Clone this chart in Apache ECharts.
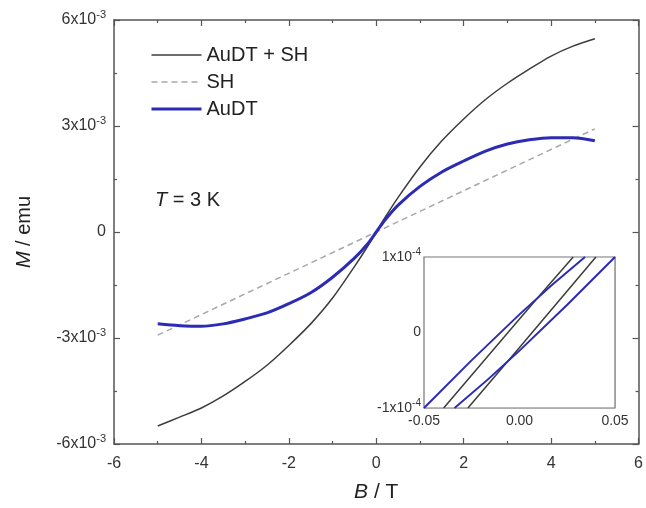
<!DOCTYPE html>
<html>
<head>
<meta charset="utf-8">
<script src="https://cdn.jsdelivr.net/npm/echarts@6/dist/echarts.min.js"></script>
<style>
  html, body { margin: 0; padding: 0; background: #fff; }
  #main { width: 646px; height: 508px; }
</style>
</head>
<body>
<div id="main"></div>
<script>
// main panel: B in T, M in units of 1e-3 emu
var fieldB = [-5, -4.5, -4, -3.5, -3, -2.5, -2, -1.5, -1, -0.5, -0.2, 0, 0.2, 0.5, 1, 1.5, 2, 2.5, 3, 3.5, 4, 4.5, 5];
var mTotal = [-5.49, -5.24, -4.98, -4.64, -4.23, -3.77, -3.21, -2.60, -1.87, -0.98, -0.41, 0, 0.41, 0.98, 1.84, 2.58, 3.2, 3.75, 4.21, 4.61, 4.98, 5.26, 5.47];
var mAuDT = [-2.6, -2.65, -2.67, -2.6, -2.46, -2.29, -2.03, -1.72, -1.28, -0.74, -0.34, 0, 0.34, 0.76, 1.29, 1.7, 2.01, 2.29, 2.49, 2.61, 2.67, 2.67, 2.58];
var fieldSH = [-5, 5];
var mSH = [-2.92, 2.92];

// inset: B in T, M in units of 1e-4 emu, two branches of each loop
var insetTotalUp = [[-0.0397, -1], [0, 0.18], [0.0281, 1]];
var insetTotalDown = [[-0.027, -1], [0, -0.2], [0.040, 1]];
var insetAuDTUp = [[-0.05, -1], [0, 0.24], [0.0343, 1]];
var insetAuDTDown = [[-0.034, -1], [0, -0.24], [0.05, 1]];

var legendNames = ['AuDT + SH', 'SH', 'AuDT'];

function pairs(xs, ys) {
  var out = [];
  for (var i = 0; i < xs.length; i++) out.push([xs[i], ys[i]]);
  return out;
}

var FONT = 'Liberation Sans, Arial, sans-serif';
var BLACK = '#3c3c3c';
var BLUE = '#2b2bb5';
var GREY = '#a8a8a8';
var FRAME = '#555555';
var legendWidths = { 'AuDT + SH': 1.5, 'SH': 1.5, 'AuDT': 3 };

var supRich = {
  n: { fontSize: 16, color: '#333', fontFamily: FONT },
  s: { fontSize: 11, color: '#333', fontFamily: FONT, padding: [0, 0, 10, 0] }
};

var chart = echarts.init(document.getElementById('main'));
chart.setOption({
  animation: false,
  textStyle: { fontFamily: FONT },
  grid: [
    { left: 114, top: 20, right: 4, bottom: 63, show: false },
    { left: 424, top: 257, width: 191, height: 151, show: true, backgroundColor: '#fff', borderColor: '#777', borderWidth: 1.2, z: 5 }
  ],
  legend: {
    data: legendNames.map(function (n) {
      return { name: n, lineStyle: { width: legendWidths[n] } };
    }),
    orient: 'vertical',
    left: 145,
    top: 40,
    itemWidth: 50,
    itemHeight: 14,
    itemGap: 7,
    itemStyle: { opacity: 0 },
    textStyle: { fontSize: 20, color: '#222', fontFamily: FONT }
  },
  graphic: [{
    type: 'text',
    left: 155,
    top: 190,
    style: {
      text: '{i|T} = 3 K',
      fontSize: 20,
      fill: '#222',
      fontFamily: FONT,
      rich: { i: { fontStyle: 'italic', fontSize: 20, fontFamily: FONT } }
    }
  }],
  xAxis: [
    {
      gridIndex: 0, type: 'value', min: -6, max: 6, interval: 2,
      name: '{i|B} / T', nameLocation: 'middle', nameGap: 38,
      nameTextStyle: { fontSize: 21, color: '#222', rich: { i: { fontStyle: 'italic', fontSize: 21 } } },
      axisLine: { show: true, onZero: false, lineStyle: { color: FRAME, width: 1.5 } },
      axisTick: { inside: true, length: 6, lineStyle: { color: FRAME, width: 1.2 } },
      minorTick: { show: true, splitNumber: 2, length: 3, lineStyle: { color: FRAME, width: 1.2 } },
      axisLabel: { fontSize: 16, color: '#333', margin: 12 },
      splitLine: { show: false }
    },
    {
      gridIndex: 0, type: 'value', min: -6, max: 6, interval: 2, position: 'top',
      axisLine: { show: true, onZero: false, lineStyle: { color: FRAME, width: 1.5 } },
      axisTick: { inside: true, length: 6, lineStyle: { color: FRAME, width: 1.2 } },
      minorTick: { show: true, splitNumber: 2, length: 3, lineStyle: { color: FRAME, width: 1.2 } },
      axisLabel: { show: false },
      splitLine: { show: false }
    },
    {
      gridIndex: 1, type: 'value', min: -0.05, max: 0.05, interval: 0.01,
      axisLine: { show: false },
      axisTick: { show: false },
      axisLabel: {
        fontSize: 14, color: '#333', margin: 6,
        formatter: function (v) {
          var k = Math.round(v * 100);
          if (k % 5 !== 0) return '';
          return (k / 100).toFixed(2);
        }
      },
      splitLine: { show: true, lineStyle: { color: '#e2e2e2', width: 1 } }
    }
  ],
  yAxis: [
    {
      gridIndex: 0, type: 'value', min: -6, max: 6, interval: 3,
      name: '{i|M} / emu', nameLocation: 'middle', nameGap: 80,
      nameTextStyle: { fontSize: 20, color: '#222', rich: { i: { fontStyle: 'italic', fontSize: 20 } } },
      axisLine: { show: true, onZero: false, lineStyle: { color: FRAME, width: 1.5 } },
      axisTick: { inside: true, length: 6, lineStyle: { color: FRAME, width: 1.2 } },
      minorTick: { show: true, splitNumber: 2, length: 3, lineStyle: { color: FRAME, width: 1.2 } },
      axisLabel: {
        margin: 8,
        formatter: function (v) {
          if (v === 0) return '{n|0}';
          return '{n|' + v + 'x10}{s|-3}';
        },
        rich: supRich
      },
      splitLine: { show: false }
    },
    {
      gridIndex: 0, type: 'value', min: -6, max: 6, interval: 3, position: 'right',
      axisLine: { show: true, onZero: false, lineStyle: { color: FRAME, width: 1.5 } },
      axisTick: { inside: true, length: 6, lineStyle: { color: FRAME, width: 1.2 } },
      minorTick: { show: true, splitNumber: 2, length: 3, lineStyle: { color: FRAME, width: 1.2 } },
      axisLabel: { show: false },
      splitLine: { show: false }
    },
    {
      gridIndex: 1, type: 'value', min: -1, max: 1, interval: 0.5,
      axisLine: { show: false },
      axisTick: { show: false },
      axisLabel: {
        margin: 3,
        formatter: function (v) {
          if (v === 0) return '{n|0}';
          if (Math.abs(v) !== 1) return '';
          return '{n|' + v + 'x10}{s|-4}';
        },
        rich: {
          n: { fontSize: 14, color: '#333', fontFamily: FONT },
          s: { fontSize: 10, color: '#333', fontFamily: FONT, padding: [0, 0, 9, 0] }
        }
      },
      splitLine: { show: true, lineStyle: { color: '#e2e2e2', width: 1 } }
    }
  ],
  series: [
    {
      name: 'AuDT + SH', type: 'line', xAxisIndex: 0, yAxisIndex: 0,
      data: pairs(fieldB, mTotal), smooth: 0.3, symbol: 'none',
      lineStyle: { color: BLACK, width: 1.5 }, itemStyle: { color: BLACK }
    },
    {
      name: 'SH', type: 'line', xAxisIndex: 0, yAxisIndex: 0,
      data: pairs(fieldSH, mSH), symbol: 'none',
      lineStyle: { color: GREY, width: 1.5, type: [6, 4] }, itemStyle: { color: GREY }
    },
    {
      name: 'AuDT', type: 'line', xAxisIndex: 0, yAxisIndex: 0,
      data: pairs(fieldB, mAuDT), smooth: 0.3, symbol: 'none',
      lineStyle: { color: BLUE, width: 3 }, itemStyle: { color: BLUE }
    },
    {
      name: 'AuDT + SH', type: 'line', xAxisIndex: 2, yAxisIndex: 2,
      data: insetTotalUp, smooth: true, symbol: 'none', z: 6,
      lineStyle: { color: BLACK, width: 1.5 }
    },
    {
      name: 'AuDT + SH', type: 'line', xAxisIndex: 2, yAxisIndex: 2,
      data: insetTotalDown, smooth: true, symbol: 'none', z: 6,
      lineStyle: { color: BLACK, width: 1.5 }
    },
    {
      name: 'AuDT', type: 'line', xAxisIndex: 2, yAxisIndex: 2,
      data: insetAuDTUp, smooth: true, symbol: 'none', z: 6,
      lineStyle: { color: BLUE, width: 2 }
    },
    {
      name: 'AuDT', type: 'line', xAxisIndex: 2, yAxisIndex: 2,
      data: insetAuDTDown, smooth: true, symbol: 'none', z: 6,
      lineStyle: { color: BLUE, width: 2 }
    }
  ]
});
</script>
</body>
</html>
